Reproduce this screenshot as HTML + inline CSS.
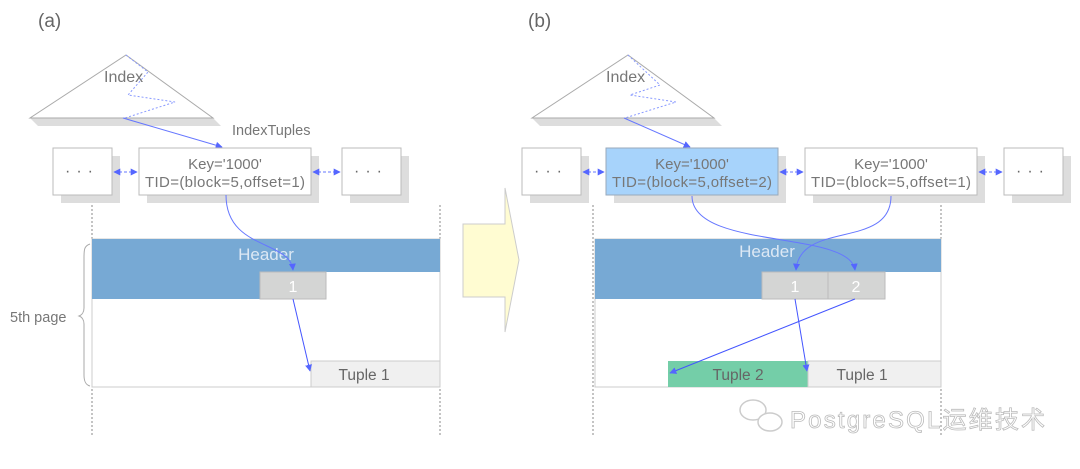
<!DOCTYPE html>
<html><head><meta charset="utf-8"><style>
html,body{margin:0;padding:0;background:#fff;width:1080px;height:469px;overflow:hidden}
svg{display:block}
text{font-family:"Liberation Sans","Noto Sans CJK SC",sans-serif}
</style></head><body>
<svg width="1080" height="469" viewBox="0 0 1080 469" xmlns="http://www.w3.org/2000/svg">
<defs>
<marker id="ah" viewBox="0 0 10 10" refX="9" refY="5" markerWidth="7" markerHeight="7" orient="auto-start-reverse"><path d="M0,0 L10,5 L0,10 z" fill="#5566ff"/></marker>
</defs>
<text x="38" y="27" font-size="19" fill="#666">(a)</text>
<text x="528" y="27" font-size="19" fill="#666">(b)</text>

<polygon points="38,126 221,126 213,118 30,118" fill="#ddd"/>
<polygon points="126,55 213,118 30,118" fill="#fff" stroke="#aaa" stroke-width="1"/>
<polyline points="126,55 148,72 128,95 175,102 125,118" fill="none" stroke="#8899ff" stroke-dasharray="2,2"/>
<text x="104" y="82" font-size="16" fill="#777">Index</text>
<text x="232" y="135" font-size="14.5" fill="#777">IndexTuples</text>
<line x1="123" y1="118" x2="222" y2="147" stroke="#6677ff" marker-end="url(#ah)"/>

<rect x="61" y="156" width="59" height="47" fill="#ddd"/>
<rect x="53" y="148" width="59" height="47" fill="#fff" stroke="#bbb"/>
<text x="82" y="176" font-size="16" fill="#666" text-anchor="middle" letter-spacing="6">···</text>
<rect x="147" y="156" width="172" height="47" fill="#ddd"/>
<rect x="139" y="148" width="172" height="47" fill="#fff" stroke="#bbb"/>
<text x="225" y="169" font-size="15" fill="#777" text-anchor="middle">Key='1000'</text>
<text x="225" y="187" font-size="15" fill="#777" text-anchor="middle" textLength="160">TID=(block=5,offset=1)</text>
<rect x="350" y="156" width="59" height="47" fill="#ddd"/>
<rect x="342" y="148" width="59" height="47" fill="#fff" stroke="#bbb"/>
<text x="371" y="176" font-size="16" fill="#666" text-anchor="middle" letter-spacing="6">···</text>
<line x1="114" y1="172" x2="137" y2="172" stroke="#6677ff" stroke-dasharray="3,2" marker-start="url(#ah)" marker-end="url(#ah)"/>
<line x1="313" y1="172" x2="340" y2="172" stroke="#6677ff" stroke-dasharray="3,2" marker-start="url(#ah)" marker-end="url(#ah)"/>

<line x1="92" y1="205" x2="92" y2="435" stroke="#888" stroke-dasharray="2,2"/>
<line x1="440" y1="205" x2="440" y2="435" stroke="#888" stroke-dasharray="2,2"/>

<rect x="92" y="239" width="348" height="148" fill="#fff" stroke="#ccc"/>
<rect x="92" y="239" width="348" height="33" fill="#77a9d4"/>
<rect x="92" y="272" width="168" height="27" fill="#77a9d4"/>
<rect x="260" y="272" width="66" height="27" fill="#d4d5d4" stroke="#bbb"/>
<text x="266" y="260" font-size="17" fill="#dce8f4" text-anchor="middle">Header</text>
<text x="293" y="292" font-size="16" fill="#fff" text-anchor="middle">1</text>
<rect x="311" y="361" width="129" height="26" fill="#f0f0f0" stroke="#ccc"/>
<text x="364" y="380" font-size="15.5" fill="#666" text-anchor="middle">Tuple 1</text>
<path d="M226,195 C226,250 290,240 293,270" fill="none" stroke="#6677ff" marker-end="url(#ah)"/>
<line x1="293" y1="299" x2="310" y2="371" stroke="#4455ff" marker-end="url(#ah)"/>
<path d="M90,244 C84,246 84,250 84,258 L84,308 C84,312 82,315 79,316 C82,317 84,320 84,324 L84,375 C84,382 86,385 90,386" fill="none" stroke="#aaa"/>
<text x="10" y="322" font-size="14.5" fill="#777">5th page</text>

<polygon points="463,224 505,224 505,188 519,260 505,332 505,297 463,297" fill="#fffcd2" stroke="#ccc"/>

<polygon points="540,126 722,126 714,118 532,118" fill="#ddd"/>
<polygon points="628,55 714,118 532,118" fill="#fff" stroke="#aaa"/>
<polyline points="628,55 660,85 630,95 676,102 625,118" fill="none" stroke="#8899ff" stroke-dasharray="2,2"/>
<text x="606" y="82" font-size="16" fill="#777">Index</text>
<line x1="624" y1="118" x2="690" y2="147" stroke="#6677ff" marker-end="url(#ah)"/>

<rect x="530" y="156" width="59" height="47" fill="#ddd"/>
<rect x="522" y="148" width="59" height="47" fill="#fff" stroke="#bbb"/>
<text x="551" y="176" font-size="16" fill="#666" text-anchor="middle" letter-spacing="6">···</text>
<rect x="614" y="156" width="172" height="47" fill="#ddd"/>
<rect x="606" y="148" width="172" height="47" fill="#a7d3fb" stroke="#9ab"/>
<text x="692" y="169" font-size="15" fill="#777" text-anchor="middle">Key='1000'</text>
<text x="692" y="187" font-size="15" fill="#777" text-anchor="middle" textLength="160">TID=(block=5,offset=2)</text>
<rect x="813" y="156" width="172" height="47" fill="#ddd"/>
<rect x="805" y="148" width="172" height="47" fill="#fff" stroke="#bbb"/>
<text x="891" y="169" font-size="15" fill="#777" text-anchor="middle">Key='1000'</text>
<text x="891" y="187" font-size="15" fill="#777" text-anchor="middle" textLength="160">TID=(block=5,offset=1)</text>
<rect x="1012" y="156" width="59" height="47" fill="#ddd"/>
<rect x="1004" y="148" width="59" height="47" fill="#fff" stroke="#bbb"/>
<text x="1033" y="176" font-size="16" fill="#666" text-anchor="middle" letter-spacing="6">···</text>
<line x1="583" y1="172" x2="604" y2="172" stroke="#6677ff" stroke-dasharray="3,2" marker-start="url(#ah)" marker-end="url(#ah)"/>
<line x1="780" y1="172" x2="803" y2="172" stroke="#6677ff" stroke-dasharray="3,2" marker-start="url(#ah)" marker-end="url(#ah)"/>
<line x1="979" y1="172" x2="1002" y2="172" stroke="#6677ff" stroke-dasharray="3,2" marker-start="url(#ah)" marker-end="url(#ah)"/>

<line x1="593" y1="205" x2="593" y2="435" stroke="#888" stroke-dasharray="2,2"/>
<line x1="941" y1="205" x2="941" y2="435" stroke="#888" stroke-dasharray="2,2"/>

<rect x="595" y="239" width="346" height="148" fill="#fff" stroke="#ccc"/>
<rect x="595" y="239" width="346" height="33" fill="#77a9d4"/>
<rect x="595" y="272" width="167" height="27" fill="#77a9d4"/>
<rect x="762" y="272" width="66" height="27" fill="#d4d5d4" stroke="#bbb"/>
<rect x="828" y="272" width="57" height="27" fill="#d4d5d4" stroke="#bbb"/>
<text x="767" y="257" font-size="17" fill="#dce8f4" text-anchor="middle">Header</text>
<text x="795" y="292" font-size="16" fill="#fff" text-anchor="middle">1</text>
<text x="856" y="292" font-size="16" fill="#fff" text-anchor="middle">2</text>
<rect x="668" y="361" width="140" height="26" fill="#74cea8"/>
<rect x="808" y="361" width="133" height="26" fill="#f0f0f0" stroke="#ccc"/>
<text x="738" y="380" font-size="15.5" fill="#666" text-anchor="middle">Tuple  2</text>
<text x="862" y="380" font-size="15.5" fill="#666" text-anchor="middle">Tuple 1</text>
<path d="M692,196 C692,250 850,230 855,270" fill="none" stroke="#6677ff" marker-end="url(#ah)"/>
<path d="M891,196 C891,250 800,220 796,270" fill="none" stroke="#6677ff" marker-end="url(#ah)"/>
<line x1="795" y1="299" x2="807" y2="371" stroke="#4455ff" marker-end="url(#ah)"/>
<line x1="855" y1="299" x2="670" y2="373" stroke="#4455ff" marker-end="url(#ah)"/>

<g fill="none" stroke="#ccc" stroke-width="1.5">
<ellipse cx="753" cy="410" rx="13" ry="10"/>
<ellipse cx="770" cy="422" rx="12" ry="9" fill="#fff"/>
</g>
<text x="790" y="428" font-size="24" fill="#fff" stroke="#bbb" stroke-width="0.8" textLength="255">PostgreSQL运维技术</text>
</svg>
</body></html>
